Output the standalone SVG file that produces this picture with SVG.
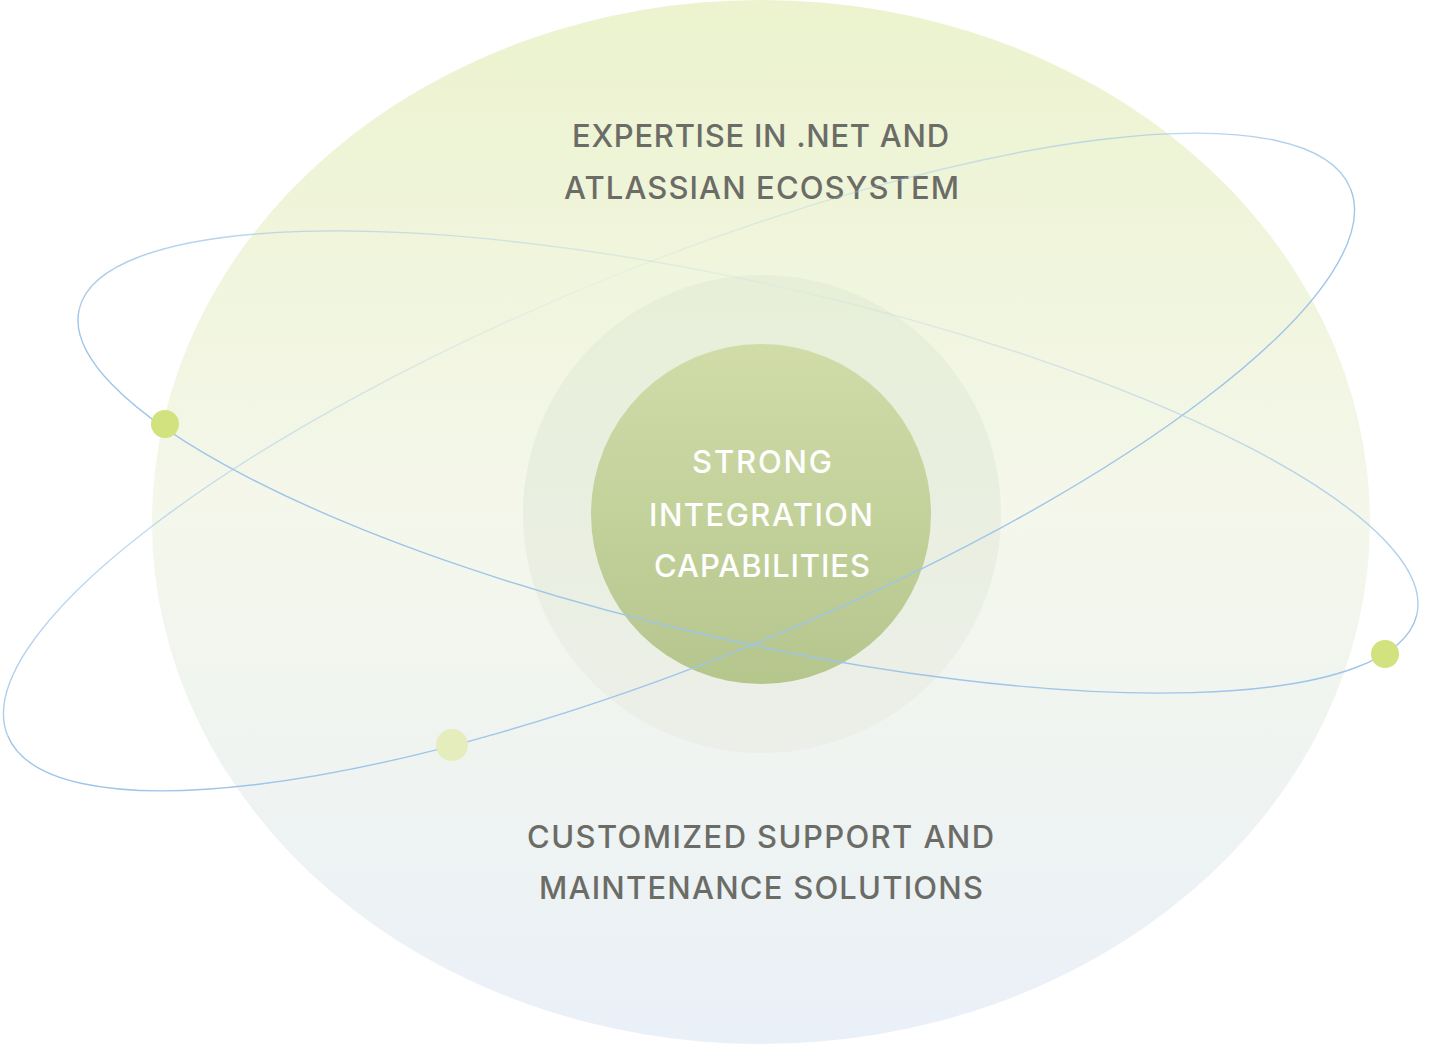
<svg xmlns="http://www.w3.org/2000/svg" width="1429" height="1044" viewBox="0 0 1429 1044">
  <defs>
    <linearGradient id="bigGrad" x1="0" y1="0" x2="0" y2="1">
      <stop offset="0" stop-color="#ECF3CE"/>
      <stop offset="0.5" stop-color="#F4F7EB"/>
      <stop offset="1" stop-color="#EAF0F8"/>
    </linearGradient>
    <linearGradient id="midGrad" x1="0" y1="0" x2="0" y2="1">
      <stop offset="0" stop-color="#E7EFD8"/>
      <stop offset="1" stop-color="#ECEFE9"/>
    </linearGradient>
    <linearGradient id="coreGrad" x1="0" y1="0" x2="0" y2="1">
      <stop offset="0" stop-color="#D1DCA9"/>
      <stop offset="1" stop-color="#B5C68D"/>
    </linearGradient>
    <linearGradient id="back1" gradientUnits="userSpaceOnUse" x1="-686" y1="0" x2="686" y2="0">
      <stop offset="0" stop-color="#9FC5E8" stop-opacity="0.85"/>
      <stop offset="0.5" stop-color="#9FC5E8" stop-opacity="0.08"/>
      <stop offset="1" stop-color="#9FC5E8" stop-opacity="0.85"/>
    </linearGradient>
    <linearGradient id="back2" gradientUnits="userSpaceOnUse" x1="-725" y1="0" x2="725" y2="0">
      <stop offset="0" stop-color="#9FC5E8" stop-opacity="0.85"/>
      <stop offset="0.5" stop-color="#9FC5E8" stop-opacity="0.08"/>
      <stop offset="1" stop-color="#9FC5E8" stop-opacity="0.85"/>
    </linearGradient>
    <style>
      .orbit { fill: none; stroke-width: 1.4; }
      .front { stroke: #9FC5E8; }
      .label { font-family: Inter, "Open Sans", "Liberation Sans", sans-serif; font-size: 31px; font-weight: 500; fill: #6C6C67; text-anchor: middle; }
      .core-label { font-family: Inter, "Open Sans", "Liberation Sans", sans-serif; font-size: 31px; font-weight: 500; fill: #FFFFFF; text-anchor: middle; }
      .dot { fill: #D2E27E; }
      .dot-light { fill: #E4EDBB; }
    </style>
  </defs>

  <g id="background-ellipse">
    <ellipse cx="761" cy="522" rx="609" ry="522" fill="url(#bigGrad)"/>
  </g>

  <g id="middle-ring">
    <circle cx="762" cy="514" r="239" fill="url(#midGrad)"/>
  </g>

  <g id="core-node">
    <circle cx="761" cy="514" r="170" fill="url(#coreGrad)"/>
    <text class="core-label" x="762" y="473" textLength="140" lengthAdjust="spacing">STRONG</text>
    <text class="core-label" x="761" y="526" textLength="224" lengthAdjust="spacing">INTEGRATION</text>
    <text class="core-label" x="762" y="577" textLength="216" lengthAdjust="spacing">CAPABILITIES</text>
  </g>

  <g id="top-label">
    <text class="label" x="760.5" y="147" textLength="377" lengthAdjust="spacing">EXPERTISE IN .NET AND</text>
    <text class="label" x="761.5" y="199" textLength="395" lengthAdjust="spacing">ATLASSIAN ECOSYSTEM</text>
  </g>

  <g id="bottom-label">
    <text class="label" x="760.5" y="848" textLength="467" lengthAdjust="spacing">CUSTOMIZED SUPPORT AND</text>
    <text class="label" x="761" y="899" textLength="444" lengthAdjust="spacing">MAINTENANCE SOLUTIONS</text>
  </g>

  <g id="connectors">
    <g id="orbit-1" transform="translate(748 462) rotate(12.85)">
      <path class="orbit" stroke="url(#back1)" d="M -686 0 A 686 178 0 0 1 686 0"/>
      <path class="orbit front" d="M -686 0 A 686 178 0 0 0 686 0"/>
    </g>
    <g id="orbit-2" transform="translate(679 462) rotate(-22.17)">
      <path class="orbit" stroke="url(#back2)" d="M -725 0 A 725 197 0 0 1 725 0"/>
      <path class="orbit front" d="M -725 0 A 725 197 0 0 0 725 0"/>
    </g>
  </g>

  <g id="dot-1">
    <circle class="dot" cx="165" cy="424" r="14"/>
  </g>
  <g id="dot-2">
    <circle class="dot" cx="1385" cy="654" r="14"/>
  </g>
  <g id="dot-3">
    <circle class="dot-light" cx="452" cy="745" r="16"/>
  </g>
</svg>
